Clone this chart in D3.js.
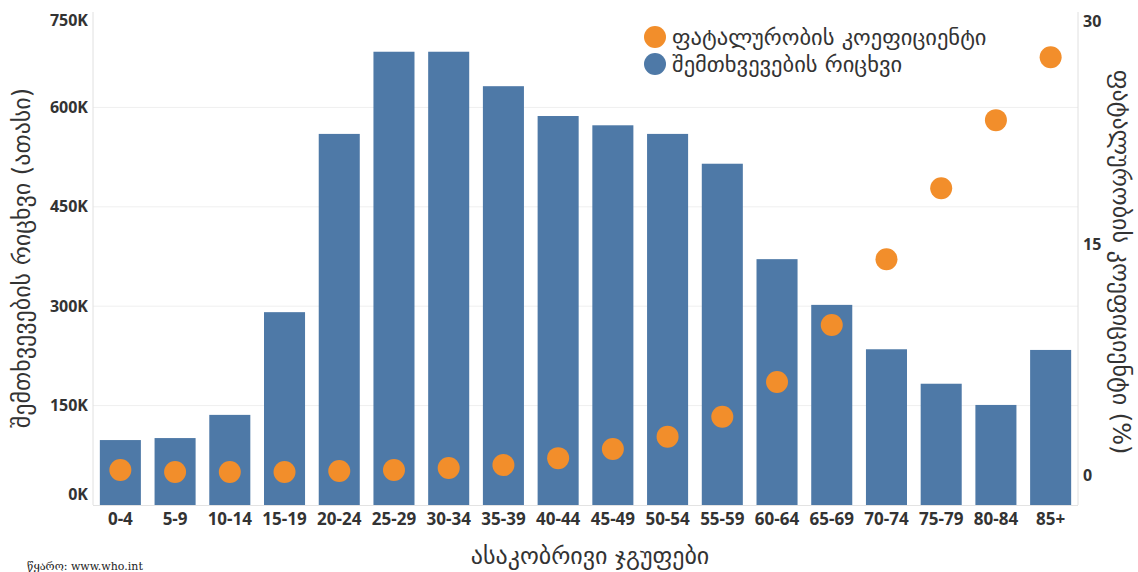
<!DOCTYPE html>
<html>
<head>
<meta charset="utf-8">
<script src="https://cdn.jsdelivr.net/npm/d3@7"></script>
<style>
  html, body { margin: 0; padding: 0; background: #fff; }
  svg { display: block; }
</style>
</head>
<body>
<svg id="chart" width="1138" height="572"></svg>
<script>
// Age groups
const ageGroups = ["0-4","5-9","10-14","15-19","20-24","25-29","30-34","35-39","40-44",
  "45-49","50-54","55-59","60-64","65-69","70-74","75-79","80-84","85+"];
// Number of cases
const caseCounts = [98000, 101000, 136000, 291000, 560000, 684000, 684000, 632000, 587000,
  573000, 560000, 515000, 371000, 302000, 235000, 183000, 151000, 234000];
// Case fatality rate (%)
const fatalityRates = [0.33, 0.2, 0.2, 0.2, 0.26, 0.33, 0.46, 0.65, 1.1,
  1.7, 2.5, 3.8, 6.05, 9.76, 14.05, 18.67, 23.1, 27.2];
// Axis ticks
const leftTicks = [0, 150000, 300000, 450000, 600000, 750000];
const rightTicks = [0, 15, 30];

const legendLabels = ["ფატალურობის კოეფიციენტი", "შემთხვევების რიცხვი"];
const leftTitle = "შემთხვევების რიცხვი (ათასი)";
const rightTitle = "ფატალურობის კოეფიციენტი (%)";
const xTitle = "ასაკობრივი ჯგუფები";
const sourceNote = "წყარო: www.who.int";

const BLUE = "#4e79a7", ORANGE = "#f28e2b";
const GEO = "'DejaVu Sans', sans-serif";
const TICKFONT = "'Open Sans', 'DejaVu Sans', sans-serif";

const svg = d3.select("#chart");
const pane = { left: 93, right: 1078, top: 8, bottom: 505 };

const x = d3.scaleBand().domain(ageGroups).range([pane.left, pane.right]).paddingInner(0.25).paddingOuter(0.125);
const yL = d3.scaleLinear().domain([0, 750000]).range([pane.bottom, pane.top]);
const yR = d3.scaleLinear().domain([-1.95, 30.4]).range([pane.bottom, pane.top]);

// gridlines
svg.append("g").selectAll("line").data(leftTicks.filter(d => d > 0 && d < 750000)).join("line")
  .attr("x1", pane.left).attr("x2", pane.right)
  .attr("y1", d => yL(d)).attr("y2", d => yL(d))
  .attr("stroke", "#efefef").attr("stroke-width", 1);

// pane borders
svg.append("line").attr("x1", pane.left).attr("x2", pane.left).attr("y1", 12).attr("y2", pane.bottom)
  .attr("stroke", "#e0e0e0");
svg.append("line").attr("x1", pane.right).attr("x2", pane.right).attr("y1", 12).attr("y2", pane.bottom)
  .attr("stroke", "#e0e0e0");

// bars
svg.append("g").selectAll("rect").data(ageGroups).join("rect")
  .attr("x", d => x(d))
  .attr("width", x.bandwidth())
  .attr("y", (d, i) => yL(caseCounts[i]))
  .attr("height", (d, i) => yL(0) - yL(caseCounts[i]))
  .attr("fill", BLUE);

// baseline
svg.append("line").attr("x1", pane.left).attr("x2", pane.right).attr("y1", pane.bottom + 0.5).attr("y2", pane.bottom + 0.5)
  .attr("stroke", "#e3e3e3");

// fatality circles
svg.append("g").selectAll("circle").data(ageGroups).join("circle")
  .attr("cx", d => x(d) + x.bandwidth() / 2)
  .attr("cy", (d, i) => yR(fatalityRates[i]))
  .attr("r", 11)
  .attr("fill", ORANGE);

// left axis
const fmtK = d => (d / 1000) + "K";
const leftAxis = svg.append("g").attr("transform", `translate(${pane.left - 5},0)`)
  .call(d3.axisLeft(yL).tickValues(leftTicks).tickFormat(fmtK).tickSize(0).tickPadding(0));
leftAxis.select(".domain").remove();
leftAxis.selectAll("text")
  .attr("font-family", TICKFONT).attr("font-weight", 700).attr("font-size", 16).attr("fill", "#333")
  .attr("dy", d => d === 750000 ? "1.1em" : d === 0 ? "-0.35em" : "0.32em");

// right axis
const rightAxis = svg.append("g").attr("transform", `translate(${pane.right + 5},0)`)
  .call(d3.axisRight(yR).tickValues(rightTicks).tickFormat(d3.format("d")).tickSize(0).tickPadding(0));
rightAxis.select(".domain").remove();
rightAxis.selectAll("text")
  .attr("font-family", TICKFONT).attr("font-weight", 700).attr("font-size", 16).attr("fill", "#333")
  .attr("dy", d => d === 30 ? "0.8em" : "0.32em");

// x axis
const xAxis = svg.append("g").attr("transform", `translate(0,${pane.bottom})`)
  .call(d3.axisBottom(x).tickSize(0).tickPadding(8));
xAxis.select(".domain").remove();
xAxis.selectAll("text")
  .attr("font-family", TICKFONT).attr("font-weight", 700).attr("font-size", 17).attr("fill", "#333");

// axis titles
svg.append("text").attr("transform", "translate(30,258) rotate(-90)")
  .attr("text-anchor", "middle").attr("font-family", GEO).attr("font-size", 24).attr("fill", "#333")
  .text(leftTitle);
svg.append("text").attr("transform", "translate(1113,262) rotate(90)")
  .attr("text-anchor", "middle").attr("font-family", GEO).attr("font-size", 24).attr("fill", "#333")
  .text(rightTitle);
svg.append("text").attr("x", 590).attr("y", 564)
  .attr("text-anchor", "middle").attr("font-family", GEO).attr("font-size", 24).attr("fill", "#333")
  .text(xTitle);

// legend
const legend = svg.append("g").attr("transform", "translate(655,37)");
const legendColors = [ORANGE, BLUE];
legend.selectAll("circle").data(legendLabels).join("circle")
  .attr("cx", 0).attr("cy", (d, i) => i * 27).attr("r", 11)
  .attr("fill", (d, i) => legendColors[i]);
legend.selectAll("text").data(legendLabels).join("text")
  .attr("x", 17).attr("y", (d, i) => i * 27).attr("dy", "0.35em")
  .attr("font-family", GEO).attr("font-size", 22.5).attr("fill", "#333")
  .text(d => d);

// source note
svg.append("text").attr("x", 27).attr("y", 570)
  .attr("font-family", "'DejaVu Serif', 'Liberation Serif', serif").attr("font-size", 11).attr("fill", "#222")
  .text(sourceNote);
</script>
</body>
</html>
